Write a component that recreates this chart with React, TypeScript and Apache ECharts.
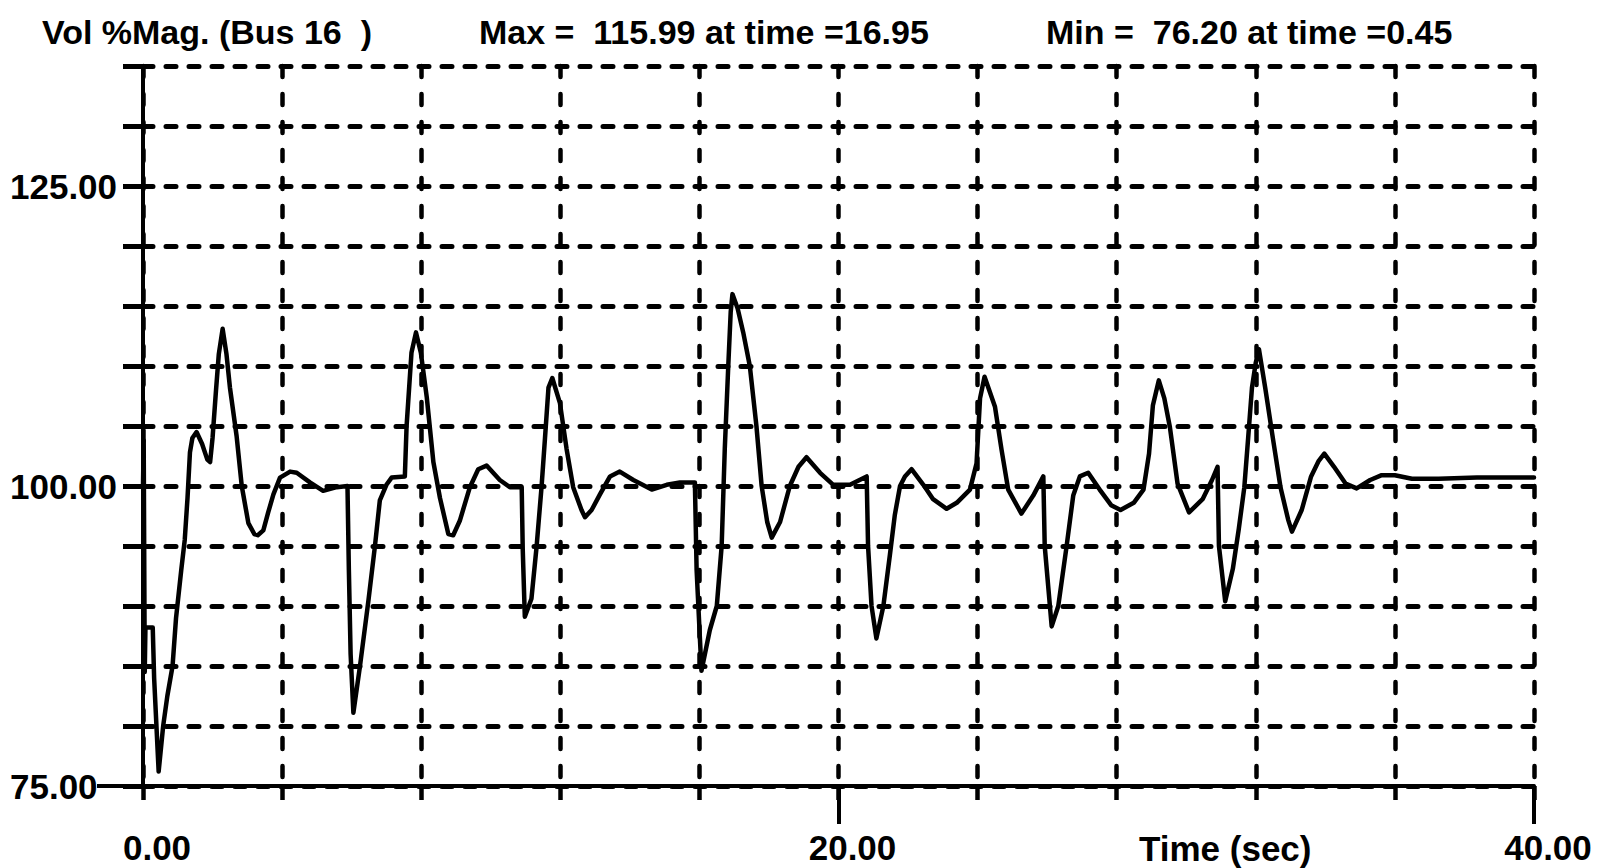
import React, { useEffect, useRef } from "react";
import * as echarts from "echarts";

// Time (sec) of each sampled point of the trace
const times = [
  0.0, 0.02, 0.05, 0.07, 0.28, 0.32, 0.45, 0.58, 0.7, 0.85, 0.95, 1.1, 1.2, 1.28, 1.35, 1.42, 1.54, 1.7, 1.85, 1.93,
  2.0, 2.1, 2.18, 2.29, 2.4, 2.5, 2.69, 2.84, 3.03, 3.2, 3.3, 3.46, 3.6, 3.75, 3.94, 4.23, 4.42, 4.8, 5.18, 5.57,
  5.88, 5.92, 5.97, 6.05, 6.24, 6.48, 6.67, 6.81, 7.0, 7.15, 7.53, 7.58, 7.72, 7.85, 7.99, 8.16, 8.35, 8.54, 8.78, 8.92,
  9.11, 9.4, 9.64, 9.88, 10.26, 10.55, 10.89, 10.92, 10.98, 11.17, 11.32, 11.46, 11.56, 11.66, 11.77, 11.99, 12.18, 12.37, 12.61, 12.71,
  12.9, 13.14, 13.43, 13.71, 14.1, 14.63, 15.06, 15.44, 15.87, 15.92, 16.06, 16.3, 16.5, 16.64, 16.73, 16.83, 16.9, 16.95, 17.1, 17.26,
  17.45, 17.64, 17.79, 17.95, 18.08, 18.32, 18.6, 18.85, 19.08, 19.47, 19.85, 20.33, 20.81, 20.85, 20.95, 21.09, 21.29, 21.48, 21.62, 21.77,
  21.91, 22.1, 22.44, 22.72, 23.11, 23.4, 23.78, 23.97, 24.07, 24.2, 24.5, 24.69, 24.88, 25.26, 25.6, 25.89, 25.93, 26.13, 26.32, 26.56,
  26.75, 26.94, 27.18, 27.51, 27.84, 28.11, 28.49, 28.77, 28.93, 29.04, 29.21, 29.37, 29.53, 29.75, 30.08, 30.47, 30.74, 30.9, 30.94, 31.12,
  31.34, 31.51, 31.67, 31.78, 31.89, 32.0, 32.09, 32.27, 32.49, 32.71, 32.93, 33.04, 33.32, 33.59, 33.81, 33.97, 34.25, 34.58, 34.9, 35.29,
  35.62, 36.0, 36.49, 37.26, 38.36, 40.0,
];

// Voltage magnitude (%) at each time above
const volts = [
  100.0, 103.8, 84.5, 88.2, 88.2, 84.0, 76.2, 80.0, 82.5, 85.0, 89.0, 93.0, 95.5, 99.0, 102.8, 104.0, 104.5, 103.5, 102.2, 102.0,
  104.0, 108.0, 111.0, 113.1, 111.0, 108.2, 104.2, 100.0, 96.9, 96.0, 95.9, 96.3, 97.8, 99.3, 100.7, 101.2, 101.1, 100.3, 99.6, 99.9,
  100.0, 93.0, 86.0, 81.1, 85.0, 90.4, 95.0, 98.8, 100.1, 100.7, 100.8, 105.0, 111.1, 112.8, 111.1, 107.4, 102.0, 99.0, 96.0, 95.9,
  97.1, 99.9, 101.4, 101.7, 100.5, 99.9, 99.9, 94.7, 89.1, 90.6, 95.0, 99.9, 104.0, 108.2, 109.0, 106.9, 103.1, 99.9, 98.0, 97.4,
  98.0, 99.3, 100.8, 101.2, 100.5, 99.7, 100.1, 100.3, 100.3, 93.0, 84.6, 88.0, 90.0, 95.0, 103.1, 110.0, 114.5, 115.99, 114.8, 112.8,
  110.0, 105.0, 100.0, 97.0, 95.7, 97.0, 100.0, 101.6, 102.4, 101.1, 100.1, 100.1, 100.8, 95.0, 90.0, 87.3, 90.0, 94.3, 97.6, 100.0,
  100.8, 101.4, 100.1, 98.9, 98.1, 98.6, 99.7, 101.9, 107.3, 109.1, 106.6, 103.0, 99.7, 97.7, 99.2, 100.8, 95.0, 88.3, 90.0, 95.0,
  99.2, 100.8, 101.1, 99.7, 98.4, 98.0, 98.6, 99.7, 102.7, 106.7, 108.8, 107.3, 104.9, 100.2, 97.8, 98.9, 100.5, 101.6, 95.0, 90.4,
  93.1, 96.4, 99.9, 104.0, 108.2, 110.3, 111.4, 108.2, 104.0, 99.9, 97.2, 96.2, 98.0, 100.8, 102.1, 102.7, 101.6, 100.2, 99.8, 100.5,
  100.9, 100.9, 100.6, 100.6, 100.7, 100.7,
];

const yTickValues = [75, 80, 85, 90, 95, 100, 105, 110, 115, 120, 125, 130, 135];
const yLabelValues = [75, 100, 125];
const xLabelValues = [0, 20, 40];
const xMajorTickValues = [20, 40];
const seriesTitle = "Vol %Mag. (Bus 16  )";
const xAxisName = "Time (sec)";

const FONT = "'Liberation Sans', Arial, sans-serif";

export default function App() {
  const ref = useRef<HTMLDivElement>(null);

  useEffect(() => {
    if (!ref.current) return;
    const chart = echarts.init(ref.current, undefined, { renderer: "svg" });

    let iMax = 0;
    let iMin = 0;
    volts.forEach((v, i) => {
      if (v > volts[iMax]) iMax = i;
      if (v < volts[iMin]) iMin = i;
    });

    const titleTxt = { fontFamily: FONT, fontWeight: "bold" as const, fontSize: 34, color: "#000" };
    const txt = { fontFamily: FONT, fontWeight: "bold" as const, fontSize: 35, color: "#000" };
    const black = "#000";

    chart.setOption({
      animation: false,
      backgroundColor: "#fff",
      title: [
        { text: seriesTitle, left: 37, top: 10, textStyle: titleTxt },
        {
          text: `Max =  ${volts[iMax].toFixed(2)} at time =${times[iMax].toFixed(2)}`,
          left: 474,
          top: 10,
          textStyle: titleTxt,
        },
        {
          text: `Min =  ${volts[iMin].toFixed(2)} at time =${times[iMin].toFixed(2)}`,
          left: 1041,
          top: 10,
          textStyle: titleTxt,
        },
      ],
      grid: { left: 143, right: 64, top: 66, bottom: 82, containLabel: false },
      xAxis: [
        {
          type: "value",
          min: 0,
          max: 40,
          interval: 4,
          axisLine: { show: true, onZero: false, lineStyle: { color: black, width: 4 } },
          axisTick: { show: true, length: 14, lineStyle: { color: black, width: 4.5 } },
          splitLine: { show: true, lineStyle: { color: black, width: 4.5, type: [11, 17], cap: "round" } },
          axisLabel: {
            customValues: xLabelValues,
            formatter: (v: number) => v.toFixed(2),
            margin: 44,
            padding: [0, 0, 0, 28],
            ...txt,
          },
        },
        {
          type: "value",
          min: 0,
          max: 40,
          position: "bottom",
          axisLine: { show: false },
          axisTick: {
            show: true,
            customValues: xMajorTickValues,
            length: 38,
            lineStyle: { color: black, width: 4 },
          },
          axisLabel: { show: false },
          splitLine: { show: false },
        },
      ],
      yAxis: {
        type: "value",
        min: 75,
        max: 135,
        interval: 5,
        axisLine: { show: true, onZero: false, lineStyle: { color: black, width: 4 } },
        axisTick: { show: true, customValues: yTickValues, length: 20, lineStyle: { color: black, width: 5 } },
        splitLine: { show: true, lineStyle: { color: black, width: 5, type: [10, 13], cap: "round" } },
        axisLabel: {
          customValues: yLabelValues,
          formatter: (v: number) => v.toFixed(2),
          margin: 133,
          align: "left",
          ...txt,
        },
      },
      series: [
        {
          type: "line",
          xAxisIndex: 0,
          data: times.map((t, i) => [t, volts[i]]),
          showSymbol: false,
          symbol: "none",
          lineStyle: { color: black, width: 4.5, join: "round", cap: "round" },
          z: 5,
        },
      ],
      graphic: [
        {
          type: "text",
          left: 1139,
          top: 831,
          style: { text: xAxisName, fill: black, fontFamily: FONT, fontWeight: "bold", fontSize: 35 },
        },
        {
          type: "line",
          shape: { x1: 97, y1: 786, x2: 143, y2: 786 },
          style: { stroke: black, lineWidth: 4 },
        },
      ],
    });

    return () => chart.dispose();
  }, []);

  return (
    <div
      ref={ref}
      style={{ position: "fixed", left: 0, top: 0, width: 1598, height: 868, background: "#fff" }}
    />
  );
}
